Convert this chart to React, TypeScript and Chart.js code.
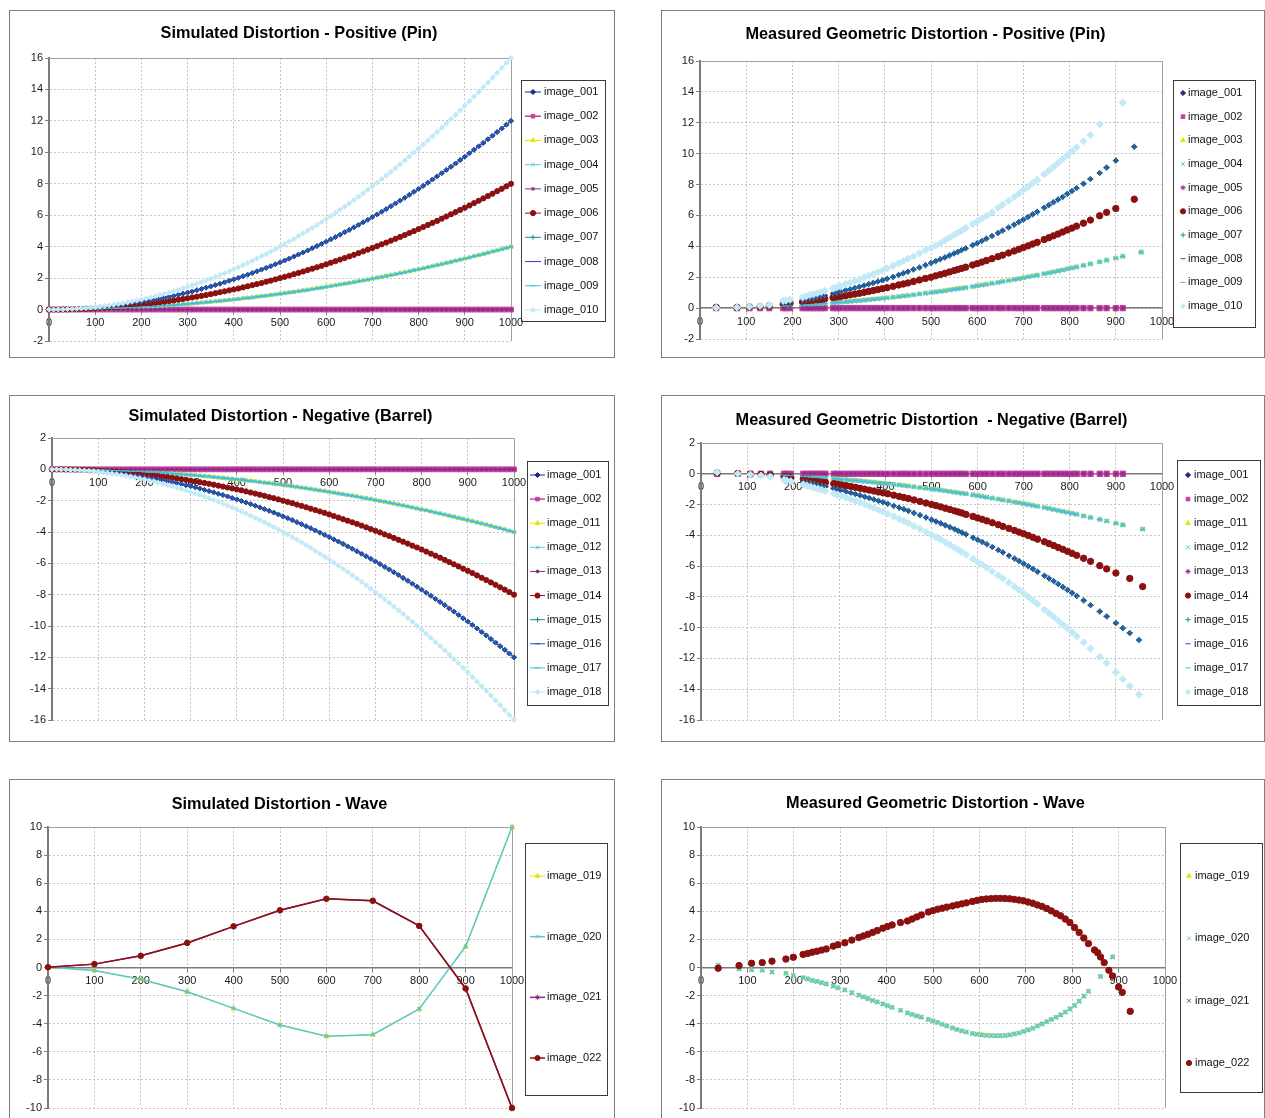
import React, { useEffect, useRef } from 'react';
import { Chart, registerables } from 'chart.js';
import { drawPoint } from 'chart.js/helpers';

Chart.register(...registerables);

const FONT = '"Liberation Sans", Arial, Helvetica, sans-serif';

// ---------------- data ----------------
const simRadius = [
  0, 10, 20, 30, 40, 50, 60, 70, 80, 90,
  100, 110, 120, 130, 140, 150, 160, 170, 180, 190,
  200, 210, 220, 230, 240, 250, 260, 270, 280, 290,
  300, 310, 320, 330, 340, 350, 360, 370, 380, 390,
  400, 410, 420, 430, 440, 450, 460, 470, 480, 490,
  500, 510, 520, 530, 540, 550, 560, 570, 580, 590,
  600, 610, 620, 630, 640, 650, 660, 670, 680, 690,
  700, 710, 720, 730, 740, 750, 760, 770, 780, 790,
  800, 810, 820, 830, 840, 850, 860, 870, 880, 890,
  900, 910, 920, 930, 940, 950, 960, 970, 980, 990,
  1000,
];

const simPinZero = [
  0, 0, 0, 0, 0, 0, 0, 0, 0, 0,
  0, 0, 0, 0, 0, 0, 0, 0, 0, 0,
  0, 0, 0, 0, 0, 0, 0, 0, 0, 0,
  0, 0, 0, 0, 0, 0, 0, 0, 0, 0,
  0, 0, 0, 0, 0, 0, 0, 0, 0, 0,
  0, 0, 0, 0, 0, 0, 0, 0, 0, 0,
  0, 0, 0, 0, 0, 0, 0, 0, 0, 0,
  0, 0, 0, 0, 0, 0, 0, 0, 0, 0,
  0, 0, 0, 0, 0, 0, 0, 0, 0, 0,
  0, 0, 0, 0, 0, 0, 0, 0, 0, 0,
  0,
];

const simPin4 = [
  0, 0, 0, 0, 0.01, 0.01, 0.01, 0.02, 0.03, 0.03,
  0.04, 0.05, 0.06, 0.07, 0.08, 0.09, 0.10, 0.12, 0.13, 0.14,
  0.16, 0.18, 0.19, 0.21, 0.23, 0.25, 0.27, 0.29, 0.31, 0.34,
  0.36, 0.38, 0.41, 0.44, 0.46, 0.49, 0.52, 0.55, 0.58, 0.61,
  0.64, 0.67, 0.71, 0.74, 0.77, 0.81, 0.85, 0.88, 0.92, 0.96,
  1.00, 1.04, 1.08, 1.12, 1.17, 1.21, 1.25, 1.30, 1.35, 1.39,
  1.44, 1.49, 1.54, 1.59, 1.64, 1.69, 1.74, 1.80, 1.85, 1.90,
  1.96, 2.02, 2.07, 2.13, 2.19, 2.25, 2.31, 2.37, 2.43, 2.50,
  2.56, 2.62, 2.69, 2.76, 2.82, 2.89, 2.96, 3.03, 3.10, 3.17,
  3.24, 3.31, 3.39, 3.46, 3.53, 3.61, 3.69, 3.76, 3.84, 3.92,
  4.00,
];

const simPin8 = [
  0, 0, 0, 0.01, 0.01, 0.02, 0.03, 0.04, 0.05, 0.06,
  0.08, 0.10, 0.12, 0.14, 0.16, 0.18, 0.20, 0.23, 0.26, 0.29,
  0.32, 0.35, 0.39, 0.42, 0.46, 0.50, 0.54, 0.58, 0.63, 0.67,
  0.72, 0.77, 0.82, 0.87, 0.92, 0.98, 1.04, 1.10, 1.16, 1.22,
  1.28, 1.34, 1.41, 1.48, 1.55, 1.62, 1.69, 1.77, 1.84, 1.92,
  2.00, 2.08, 2.16, 2.25, 2.33, 2.42, 2.51, 2.60, 2.69, 2.78,
  2.88, 2.98, 3.08, 3.18, 3.28, 3.38, 3.48, 3.59, 3.70, 3.81,
  3.92, 4.03, 4.15, 4.26, 4.38, 4.50, 4.62, 4.74, 4.87, 4.99,
  5.12, 5.25, 5.38, 5.51, 5.64, 5.78, 5.92, 6.06, 6.20, 6.34,
  6.48, 6.62, 6.77, 6.92, 7.07, 7.22, 7.37, 7.53, 7.68, 7.84,
  8.00,
];

const simPin12 = [
  0, 0, 0, 0.01, 0.02, 0.03, 0.04, 0.06, 0.08, 0.10,
  0.12, 0.15, 0.17, 0.20, 0.24, 0.27, 0.31, 0.35, 0.39, 0.43,
  0.48, 0.53, 0.58, 0.63, 0.69, 0.75, 0.81, 0.87, 0.94, 1.01,
  1.08, 1.15, 1.23, 1.31, 1.39, 1.47, 1.56, 1.64, 1.73, 1.83,
  1.92, 2.02, 2.12, 2.22, 2.32, 2.43, 2.54, 2.65, 2.76, 2.88,
  3.00, 3.12, 3.24, 3.37, 3.50, 3.63, 3.76, 3.90, 4.04, 4.18,
  4.32, 4.47, 4.61, 4.76, 4.92, 5.07, 5.23, 5.39, 5.55, 5.71,
  5.88, 6.05, 6.22, 6.39, 6.57, 6.75, 6.93, 7.11, 7.30, 7.49,
  7.68, 7.87, 8.07, 8.27, 8.47, 8.67, 8.88, 9.08, 9.29, 9.51,
  9.72, 9.94, 10.16, 10.38, 10.60, 10.83, 11.06, 11.29, 11.52, 11.76,
  12.00,
];

const simPin16 = [
  0, 0, 0.01, 0.01, 0.03, 0.04, 0.06, 0.08, 0.10, 0.13,
  0.16, 0.19, 0.23, 0.27, 0.31, 0.36, 0.41, 0.46, 0.52, 0.58,
  0.64, 0.71, 0.77, 0.85, 0.92, 1.00, 1.08, 1.17, 1.25, 1.35,
  1.44, 1.54, 1.64, 1.74, 1.85, 1.96, 2.07, 2.19, 2.31, 2.43,
  2.56, 2.69, 2.82, 2.96, 3.10, 3.24, 3.39, 3.53, 3.69, 3.84,
  4.00, 4.16, 4.33, 4.49, 4.67, 4.84, 5.02, 5.20, 5.38, 5.57,
  5.76, 5.95, 6.15, 6.35, 6.55, 6.76, 6.97, 7.18, 7.40, 7.62,
  7.84, 8.07, 8.29, 8.53, 8.76, 9.00, 9.24, 9.49, 9.73, 9.99,
  10.24, 10.50, 10.76, 11.02, 11.29, 11.56, 11.83, 12.11, 12.39, 12.67,
  12.96, 13.25, 13.54, 13.84, 14.14, 14.44, 14.75, 15.05, 15.37, 15.68,
  16.00,
];

const simBarrelZero = [
  0, 0, 0, 0, 0, 0, 0, 0, 0, 0,
  0, 0, 0, 0, 0, 0, 0, 0, 0, 0,
  0, 0, 0, 0, 0, 0, 0, 0, 0, 0,
  0, 0, 0, 0, 0, 0, 0, 0, 0, 0,
  0, 0, 0, 0, 0, 0, 0, 0, 0, 0,
  0, 0, 0, 0, 0, 0, 0, 0, 0, 0,
  0, 0, 0, 0, 0, 0, 0, 0, 0, 0,
  0, 0, 0, 0, 0, 0, 0, 0, 0, 0,
  0, 0, 0, 0, 0, 0, 0, 0, 0, 0,
  0, 0, 0, 0, 0, 0, 0, 0, 0, 0,
  0,
];

const simBarrel4 = [
  0, 0, 0, 0, -0.01, -0.01, -0.01, -0.02, -0.03, -0.03,
  -0.04, -0.05, -0.06, -0.07, -0.08, -0.09, -0.10, -0.12, -0.13, -0.14,
  -0.16, -0.18, -0.19, -0.21, -0.23, -0.25, -0.27, -0.29, -0.31, -0.34,
  -0.36, -0.38, -0.41, -0.44, -0.46, -0.49, -0.52, -0.55, -0.58, -0.61,
  -0.64, -0.67, -0.71, -0.74, -0.77, -0.81, -0.85, -0.88, -0.92, -0.96,
  -1.00, -1.04, -1.08, -1.12, -1.17, -1.21, -1.25, -1.30, -1.35, -1.39,
  -1.44, -1.49, -1.54, -1.59, -1.64, -1.69, -1.74, -1.80, -1.85, -1.90,
  -1.96, -2.02, -2.07, -2.13, -2.19, -2.25, -2.31, -2.37, -2.43, -2.50,
  -2.56, -2.62, -2.69, -2.76, -2.82, -2.89, -2.96, -3.03, -3.10, -3.17,
  -3.24, -3.31, -3.39, -3.46, -3.53, -3.61, -3.69, -3.76, -3.84, -3.92,
  -4.00,
];

const simBarrel8 = [
  0, 0, 0, -0.01, -0.01, -0.02, -0.03, -0.04, -0.05, -0.06,
  -0.08, -0.10, -0.12, -0.14, -0.16, -0.18, -0.20, -0.23, -0.26, -0.29,
  -0.32, -0.35, -0.39, -0.42, -0.46, -0.50, -0.54, -0.58, -0.63, -0.67,
  -0.72, -0.77, -0.82, -0.87, -0.92, -0.98, -1.04, -1.10, -1.16, -1.22,
  -1.28, -1.34, -1.41, -1.48, -1.55, -1.62, -1.69, -1.77, -1.84, -1.92,
  -2.00, -2.08, -2.16, -2.25, -2.33, -2.42, -2.51, -2.60, -2.69, -2.78,
  -2.88, -2.98, -3.08, -3.18, -3.28, -3.38, -3.48, -3.59, -3.70, -3.81,
  -3.92, -4.03, -4.15, -4.26, -4.38, -4.50, -4.62, -4.74, -4.87, -4.99,
  -5.12, -5.25, -5.38, -5.51, -5.64, -5.78, -5.92, -6.06, -6.20, -6.34,
  -6.48, -6.62, -6.77, -6.92, -7.07, -7.22, -7.37, -7.53, -7.68, -7.84,
  -8.00,
];

const simBarrel12 = [
  0, 0, 0, -0.01, -0.02, -0.03, -0.04, -0.06, -0.08, -0.10,
  -0.12, -0.15, -0.17, -0.20, -0.24, -0.27, -0.31, -0.35, -0.39, -0.43,
  -0.48, -0.53, -0.58, -0.63, -0.69, -0.75, -0.81, -0.87, -0.94, -1.01,
  -1.08, -1.15, -1.23, -1.31, -1.39, -1.47, -1.56, -1.64, -1.73, -1.83,
  -1.92, -2.02, -2.12, -2.22, -2.32, -2.43, -2.54, -2.65, -2.76, -2.88,
  -3.00, -3.12, -3.24, -3.37, -3.50, -3.63, -3.76, -3.90, -4.04, -4.18,
  -4.32, -4.47, -4.61, -4.76, -4.92, -5.07, -5.23, -5.39, -5.55, -5.71,
  -5.88, -6.05, -6.22, -6.39, -6.57, -6.75, -6.93, -7.11, -7.30, -7.49,
  -7.68, -7.87, -8.07, -8.27, -8.47, -8.67, -8.88, -9.08, -9.29, -9.51,
  -9.72, -9.94, -10.16, -10.38, -10.60, -10.83, -11.06, -11.29, -11.52, -11.76,
  -12.00,
];

const simBarrel16 = [
  0, 0, -0.01, -0.01, -0.03, -0.04, -0.06, -0.08, -0.10, -0.13,
  -0.16, -0.19, -0.23, -0.27, -0.31, -0.36, -0.41, -0.46, -0.52, -0.58,
  -0.64, -0.71, -0.77, -0.85, -0.92, -1.00, -1.08, -1.17, -1.25, -1.35,
  -1.44, -1.54, -1.64, -1.74, -1.85, -1.96, -2.07, -2.19, -2.31, -2.43,
  -2.56, -2.69, -2.82, -2.96, -3.10, -3.24, -3.39, -3.53, -3.69, -3.84,
  -4.00, -4.16, -4.33, -4.49, -4.67, -4.84, -5.02, -5.20, -5.38, -5.57,
  -5.76, -5.95, -6.15, -6.35, -6.55, -6.76, -6.97, -7.18, -7.40, -7.62,
  -7.84, -8.07, -8.29, -8.53, -8.76, -9.00, -9.24, -9.49, -9.73, -9.99,
  -10.24, -10.50, -10.76, -11.02, -11.29, -11.56, -11.83, -12.11, -12.39, -12.67,
  -12.96, -13.25, -13.54, -13.84, -14.14, -14.44, -14.75, -15.05, -15.37, -15.68,
  -16.00,
];

const simWaveRadius = [0, 100, 200, 300, 400, 500, 600, 700, 800, 900, 1000];
const simWavePos = [0.02, 0.24, 0.83, 1.75, 2.93, 4.07, 4.89, 4.75, 2.96, -1.49, -10];
const simWaveNeg = [0.02, -0.21, -0.83, -1.73, -2.91, -4.09, -4.89, -4.78, -2.95, 1.49, 10];

const measPinRadius = [
  35, 80, 107, 130, 150, 180, 186, 195, 222, 230, 238, 246, 254, 262, 270, 288, 296, 304,
  315, 325, 335, 345, 355, 365, 375, 385, 395, 405, 418, 430, 440, 450, 462, 475, 488, 500, 510,
  520, 530, 540, 550, 558, 566, 575, 590, 600, 610, 620, 632, 645, 655, 668, 680, 690, 700, 710,
  720, 730, 745, 755, 765, 775, 785, 795, 805, 815, 830, 845, 865, 880, 900, 915, 940, 955,
];
const measPin16 = [
  0.02, 0.05, 0.1, 0.15, 0.2, 0.48, 0.5, 0.55, 0.7, 0.78, 0.85, 0.9, 0.97, 1.05, 1.12, 1.28, 1.36, 1.42,
  1.55, 1.65, 1.75, 1.85, 1.98, 2.1, 2.2, 2.33, 2.45, 2.58, 2.74, 2.9, 3.05, 3.2, 3.35, 3.55, 3.75, 3.9, 4.05,
  4.2, 4.38, 4.56, 4.75, 4.88, 5.0, 5.2, 5.45, 5.6, 5.8, 5.98, 6.2, 6.5, 6.7, 6.95, 7.2, 7.4, 7.65, 7.85,
  8.1, 8.3, 8.65, 8.9, 9.15, 9.4, 9.65, 9.9, 10.15, 10.4, 10.8, 11.2, 11.9, null, null, 13.3, null, null,
];
const measPin12 = [
  0.02, 0.05, 0.08, 0.12, 0.18, 0.3, 0.35, 0.38, 0.5, 0.55, 0.6, 0.66, 0.7, 0.76, 0.82, 0.95, 1.0, 1.06,
  1.15, 1.22, 1.3, 1.38, 1.46, 1.55, 1.63, 1.72, 1.8, 1.9, 2.02, 2.15, 2.25, 2.36, 2.5, 2.63, 2.78, 2.92, 3.04,
  3.16, 3.28, 3.41, 3.54, 3.64, 3.75, 3.87, 4.07, 4.2, 4.35, 4.5, 4.67, 4.86, 5.02, 5.22, 5.4, 5.57, 5.73, 5.9,
  6.07, 6.24, 6.5, 6.67, 6.85, 7.03, 7.2, 7.4, 7.58, 7.77, 8.06, 8.36, 8.75, 9.1, 9.55, null, 10.45, null,
];
const measPin8 = [
  0.05, 0.05, 0.08, 0.1, 0.15, 0.25, 0.3, 0.32, 0.4, 0.42, 0.45, 0.5, 0.52, 0.55, 0.6, 0.68, 0.72, 0.75,
  0.8, 0.86, 0.91, 0.96, 1.02, 1.08, 1.14, 1.2, 1.26, 1.32, 1.41, 1.5, 1.56, 1.63, 1.72, 1.82, 1.92, 2.0, 2.09,
  2.17, 2.25, 2.34, 2.43, 2.5, 2.57, 2.65, 2.79, 2.88, 2.98, 3.08, 3.2, 3.33, 3.43, 3.57, 3.7, 3.81, 3.92, 4.03,
  4.15, 4.26, 4.44, 4.56, 4.68, 4.8, 4.93, 5.06, 5.18, 5.31, 5.5, 5.7, 5.98, 6.2, 6.45, null, 7.05, null,
];
const measPin4 = [
  0, 0.02, 0.03, 0.05, 0.08, 0.12, 0.13, 0.15, 0.2, 0.22, 0.23, 0.25, 0.27, 0.28, 0.3, 0.34, 0.36, 0.38,
  0.4, 0.43, 0.46, 0.48, 0.51, 0.54, 0.57, 0.6, 0.63, 0.66, 0.7, 0.74, 0.78, 0.81, 0.86, 0.91, 0.96, 1.0, 1.04,
  1.08, 1.12, 1.17, 1.21, 1.25, 1.28, 1.32, 1.39, 1.44, 1.49, 1.54, 1.6, 1.66, 1.72, 1.78, 1.85, 1.9, 1.96, 2.02,
  2.07, 2.13, 2.22, 2.28, 2.34, 2.4, 2.46, 2.53, 2.59, 2.66, 2.76, 2.86, 2.99, 3.1, 3.24, 3.35, null, 3.62,
];
const measPinZero = [
  0, 0, 0, 0, 0, 0, 0, 0, 0, 0, 0, 0, 0, 0, 0, 0, 0, 0,
  0, 0, 0, 0, 0, 0, 0, 0, 0, 0, 0, 0, 0, 0, 0, 0, 0, 0, 0,
  0, 0, 0, 0, 0, 0, 0, 0, 0, 0, 0, 0, 0, 0, 0, 0, 0, 0, 0,
  0, 0, 0, 0, 0, 0, 0, 0, 0, 0, 0, 0, 0, 0, 0, 0, null, null,
];

const measBarrelRadius = [
  35, 80, 107, 130, 150, 180, 186, 195, 222, 230, 238, 246, 254, 262, 270, 288, 296, 304,
  315, 325, 335, 345, 355, 365, 375, 385, 395, 405, 418, 430, 440, 450, 462, 475, 488, 500, 510,
  520, 530, 540, 550, 558, 566, 575, 590, 600, 610, 620, 632, 645, 655, 668, 680, 690, 700, 710,
  720, 730, 745, 755, 765, 775, 785, 795, 805, 815, 830, 845, 865, 880, 900, 915, 930, 950, 958,
];
const measBarrel16 = [
  0.1, 0, -0.05, -0.12, -0.2, -0.4, -0.45, -0.5, -0.7, -0.78, -0.85, -0.92, -0.98, -1.05, -1.12, -1.28, -1.36, -1.44,
  -1.55, -1.65, -1.76, -1.87, -1.98, -2.1, -2.22, -2.35, -2.47, -2.6, -2.77, -2.93, -3.07, -3.22, -3.4, -3.58, -3.78, -3.96, -4.12,
  -4.28, -4.45, -4.62, -4.8, -4.94, -5.08, -5.25, -5.53, -5.72, -5.9, -6.1, -6.35, -6.6, -6.8, -7.08, -7.33, -7.55, -7.78, -8.0,
  -8.23, -8.47, -8.82, -9.06, -9.3, -9.55, -9.8, -10.05, -10.3, -10.56, -10.95, -11.35, -11.9, -12.3, -12.9, -13.35, -13.8, -14.35, null,
];
const measBarrel12 = [
  0.05, 0, -0.05, -0.08, -0.12, -0.3, -0.33, -0.38, -0.52, -0.57, -0.62, -0.67, -0.72, -0.78, -0.84, -0.96, -1.02, -1.08,
  -1.16, -1.24, -1.32, -1.4, -1.49, -1.58, -1.67, -1.76, -1.85, -1.95, -2.08, -2.2, -2.3, -2.41, -2.55, -2.69, -2.84, -2.98, -3.1,
  -3.22, -3.35, -3.47, -3.6, -3.71, -3.82, -3.94, -4.15, -4.29, -4.43, -4.58, -4.76, -4.96, -5.11, -5.32, -5.51, -5.67, -5.84, -6.01,
  -6.18, -6.36, -6.62, -6.8, -6.98, -7.17, -7.36, -7.55, -7.74, -7.94, -8.23, -8.54, -8.95, -9.27, -9.7, -10.03, -10.35, -10.8, null,
];
const measBarrel8 = [
  0.05, 0.02, -0.03, -0.05, -0.08, -0.18, -0.2, -0.25, -0.35, -0.38, -0.42, -0.45, -0.48, -0.52, -0.56, -0.64, -0.68, -0.72,
  -0.78, -0.83, -0.88, -0.94, -1.0, -1.06, -1.12, -1.18, -1.24, -1.3, -1.39, -1.47, -1.54, -1.61, -1.7, -1.8, -1.9, -1.99, -2.07,
  -2.15, -2.24, -2.32, -2.41, -2.48, -2.55, -2.64, -2.77, -2.87, -2.96, -3.06, -3.18, -3.31, -3.42, -3.55, -3.68, -3.79, -3.9, -4.01,
  -4.13, -4.25, -4.42, -4.54, -4.66, -4.79, -4.91, -5.04, -5.17, -5.3, -5.49, -5.69, -5.97, -6.18, -6.45, null, -6.8, null, -7.33,
];
const measBarrel4 = [
  0.1, 0.02, 0, -0.02, -0.04, -0.08, -0.1, -0.12, -0.18, -0.2, -0.22, -0.24, -0.25, -0.27, -0.29, -0.33, -0.35, -0.37,
  -0.39, -0.42, -0.44, -0.47, -0.5, -0.53, -0.56, -0.59, -0.62, -0.65, -0.69, -0.73, -0.77, -0.8, -0.85, -0.9, -0.95, -0.99, -1.03,
  -1.07, -1.11, -1.16, -1.2, -1.24, -1.27, -1.31, -1.38, -1.43, -1.48, -1.53, -1.59, -1.65, -1.71, -1.77, -1.84, -1.89, -1.95, -2.0,
  -2.06, -2.12, -2.2, -2.26, -2.33, -2.39, -2.45, -2.51, -2.58, -2.64, -2.74, -2.84, -2.97, -3.08, -3.22, -3.33, null, null, -3.6,
];
const measBarrelZero = [
  0, 0, 0, 0, 0, 0, 0, 0, 0, 0, 0, 0, 0, 0, 0, 0, 0, 0,
  0, 0, 0, 0, 0, 0, 0, 0, 0, 0, 0, 0, 0, 0, 0, 0, 0, 0, 0,
  0, 0, 0, 0, 0, 0, 0, 0, 0, 0, 0, 0, 0, 0, 0, 0, 0, 0, 0,
  0, 0, 0, 0, 0, 0, 0, 0, 0, 0, 0, 0, 0, 0, 0, 0, null, null, null,
];

const measWaveRadius = [
  37, 82, 109, 132, 153, 183, 199, 220, 230, 240,
  250, 260, 270, 285, 295, 310, 325, 340, 350, 360,
  370, 380, 392, 402, 412, 430, 445, 455, 465, 475,
  490, 500, 510, 520, 530, 542, 552, 562, 572, 585,
  595, 605, 615, 625, 635, 645, 655, 665, 675, 685,
  695, 705, 715, 725, 735, 745, 755, 765, 775, 785,
  795, 805, 815, 825, 835, 848, 855, 861, 869, 879,
  887, 900, 908, 925,
];
const measWavePos = [
  -0.05, 0.14, 0.3, 0.35, 0.45, 0.6, 0.73, 0.93, 1.0, 1.09,
  1.16, 1.24, 1.32, 1.52, 1.62, 1.76, 1.95, 2.13, 2.25, 2.37,
  2.5, 2.63, 2.8, 2.92, 3.03, 3.2, 3.31, 3.45, 3.6, 3.74,
  3.95, 4.05, 4.15, 4.22, 4.3, 4.38, 4.46, 4.53, 4.6, 4.7,
  4.78, 4.84, 4.88, 4.9, 4.92, 4.92, 4.91, 4.89, 4.85, 4.8,
  4.75, 4.66, 4.57, 4.45, 4.35, 4.2, 4.03, 3.85, 3.68, 3.45,
  3.2, 2.85, 2.5, 2.1, 1.7, 1.25, 1.05, 0.75, 0.35, -0.2,
  -0.6, -1.39, -1.77, -3.12,
];
const measWaveNeg = [
  0.15, -0.1, -0.17, -0.2, -0.33, -0.42, -0.57, -0.73, -0.82, -0.93,
  -1.0, -1.08, -1.18, -1.33, -1.45, -1.6, -1.8, -1.98, -2.1, -2.22,
  -2.35, -2.46, -2.6, -2.72, -2.84, -3.05, -3.24, -3.35, -3.45, -3.54,
  -3.7, -3.8, -3.92, -4.05, -4.17, -4.3, -4.42, -4.52, -4.6, -4.7,
  -4.76, -4.8, -4.83, -4.85, -4.86, -4.86, -4.85, -4.8, -4.74, -4.67,
  -4.56, -4.45, -4.33, -4.17, -4.02, -3.86, -3.7, -3.55, -3.38, -3.18,
  -2.95, -2.7, -2.4, -2.05, -1.7, null, null, -0.64, null, null,
  0.75, null, null, null,
];

// ---------------- styling ----------------
const COL = {
  navy: '#1b2a85',
  magenta: '#c8409f',
  yellow: '#e4e400',
  cyan: '#5cc8d2',
  purple: '#8a2b8a',
  darkred: '#8b1111',
  teal: '#1f8c8c',
  blue: '#3344c8',
  sky: '#3cbbea',
  light: '#c2eaf6',
  waveTeal: '#5cc6c8',
};

type Series = {
  label: string;
  color: string;
  marker: string;
  radius: number;
  width: number;
  bw?: number;
  values: (number | null)[];
};

type LegendCfg = {
  box: [number, number, number, number];
  y0: number;
  dy: number;
  lineX?: [number, number];
  markerX: number;
  textX: number;
};

type PanelCfg = {
  frame: [number, number, number, number];
  area: [number, number, number, number];
  title: string;
  titlePos: [number, number];
  yMin: number;
  yMax: number;
  yStep: number;
  xs: number[];
  showLine: boolean;
  series: Series[];
  legend: LegendCfg;
};

const simSet = (labels: string[], vals: (number | null)[][]): Series[] => {
  const styles = [
    { color: COL.navy, marker: 'rectRot', radius: 2.5, width: 1 },
    { color: COL.magenta, marker: 'rect', radius: 3.4, width: 3.5 },
    { color: COL.yellow, marker: 'triangle', radius: 2.6, width: 1 },
    { color: COL.cyan, marker: 'crossRot', radius: 2.5, width: 1, bw: 1.3 },
    { color: COL.purple, marker: 'star', radius: 2, width: 1 },
    { color: COL.darkred, marker: 'circle', radius: 2.6, width: 1 },
    { color: COL.teal, marker: 'cross', radius: 2.5, width: 1 },
    { color: COL.blue, marker: 'line', radius: 2.5, width: 1 },
    { color: COL.sky, marker: 'line', radius: 2.5, width: 1 },
    { color: COL.light, marker: 'rectRot', radius: 2.6, width: 1.2 },
  ];
  return labels.map((l, i) => ({ label: l, ...styles[i], values: vals[i] }));
};

const measSet = (labels: string[], vals: (number | null)[][]): Series[] => {
  const styles = [
    { color: COL.navy, marker: 'rectRot', radius: 2.6, width: 0 },
    { color: COL.magenta, marker: 'rect', radius: 3.8, width: 0 },
    { color: COL.yellow, marker: 'triangle', radius: 2.8, width: 0 },
    { color: COL.cyan, marker: 'crossRot', radius: 3, width: 0, bw: 1.6 },
    { color: COL.purple, marker: 'star', radius: 2.6, width: 0 },
    { color: COL.darkred, marker: 'circle', radius: 3.2, width: 0 },
    { color: COL.teal, marker: 'cross', radius: 3, width: 0, bw: 1.4 },
    { color: COL.blue, marker: 'line', radius: 2.5, width: 0 },
    { color: COL.sky, marker: 'line', radius: 3, width: 0 },
    { color: COL.light, marker: 'rectRot', radius: 3.6, width: 0 },
  ];
  return labels.map((l, i) => ({ label: l, ...styles[i], values: vals[i] }));
};

const pinLabels = ['image_001', 'image_002', 'image_003', 'image_004', 'image_005', 'image_006', 'image_007', 'image_008', 'image_009', 'image_010'];
const barrelLabels = ['image_001', 'image_002', 'image_011', 'image_012', 'image_013', 'image_014', 'image_015', 'image_016', 'image_017', 'image_018'];
const waveLabels = ['image_019', 'image_020', 'image_021', 'image_022'];

const panels: PanelCfg[] = [
  {
    frame: [9, 10, 606, 348],
    area: [39, 501, 47, 330],
    title: 'Simulated Distortion - Positive (Pin)',
    titlePos: [289, 23],
    yMin: -2, yMax: 16, yStep: 2,
    xs: simRadius,
    showLine: true,
    series: simSet(pinLabels, [simPin12, simPinZero, simPin4, simPin4, simPinZero, simPin8, simPin12, simPin12, simPin4, simPin16]),
    legend: { box: [511, 69, 595, 310], y0: 81, dy: 24.22, lineX: [515, 531], markerX: 523, textX: 534 },
  },
  {
    frame: [661, 10, 604, 348],
    area: [38, 500, 50, 328],
    title: 'Measured Geometric Distortion - Positive (Pin)',
    titlePos: [263.5, 24],
    yMin: -2, yMax: 16, yStep: 2,
    xs: measPinRadius,
    showLine: false,
    series: measSet(pinLabels, [measPin12, measPinZero, measPin4, measPin4, measPinZero, measPin8, measPin12, measPin12, measPin4, measPin16]),
    legend: { box: [511, 69, 593, 316], y0: 82, dy: 23.67, markerX: 521, textX: 526 },
  },
  {
    frame: [9, 395, 606, 347],
    area: [42, 504, 42, 324],
    title: 'Simulated Distortion - Negative (Barrel)',
    titlePos: [270.5, 21],
    yMin: -16, yMax: 2, yStep: 2,
    xs: simRadius,
    showLine: true,
    series: simSet(barrelLabels, [simBarrel12, simBarrelZero, simBarrel4, simBarrel4, simBarrelZero, simBarrel8, simBarrel12, simBarrel12, simBarrel4, simBarrel16]),
    legend: { box: [517, 65, 598, 309], y0: 79, dy: 24.11, lineX: [520, 535], markerX: 527.5, textX: 537 },
  },
  {
    frame: [661, 395, 604, 347],
    area: [39, 500, 47, 324],
    title: 'Measured Geometric Distortion  - Negative (Barrel)',
    titlePos: [269.5, 25],
    yMin: -16, yMax: 2, yStep: 2,
    xs: measBarrelRadius,
    showLine: false,
    series: measSet(barrelLabels, [measBarrel12, measBarrelZero, measBarrel4, measBarrel4, measBarrelZero, measBarrel8, measBarrel12, measBarrel12, measBarrel4, measBarrel16]),
    legend: { box: [515, 64, 598, 309], y0: 79, dy: 24.11, markerX: 526, textX: 532 },
  },
  {
    frame: [9, 779, 606, 348],
    area: [38, 502, 47, 328],
    title: 'Simulated Distortion - Wave',
    titlePos: [269.5, 25],
    yMin: -10, yMax: 10, yStep: 2,
    xs: simWaveRadius,
    showLine: true,
    series: [
      { label: waveLabels[0], color: COL.yellow, marker: 'triangle', radius: 3, width: 1, values: simWaveNeg },
      { label: waveLabels[1], color: COL.waveTeal, marker: 'crossRot', radius: 2.5, width: 1.5, bw: 1.2, values: simWaveNeg },
      { label: waveLabels[2], color: COL.purple, marker: 'star', radius: 2.5, width: 1.5, values: simWavePos },
      { label: waveLabels[3], color: COL.darkred, marker: 'circle', radius: 2.8, width: 1.5, values: simWavePos },
    ],
    legend: { box: [515, 63, 597, 315], y0: 96, dy: 60.67, lineX: [520, 535], markerX: 527.5, textX: 537 },
  },
  {
    frame: [661, 779, 604, 348],
    area: [39, 503, 47, 328],
    title: 'Measured Geometric Distortion - Wave',
    titlePos: [273.5, 24],
    yMin: -10, yMax: 10, yStep: 2,
    xs: measWaveRadius,
    showLine: false,
    series: [
      { label: waveLabels[0], color: COL.yellow, marker: 'triangle', radius: 2.6, width: 0, values: measWaveNeg },
      { label: waveLabels[1], color: COL.cyan, marker: 'crossRot', radius: 3, width: 0, bw: 1.7, values: measWaveNeg },
      { label: waveLabels[2], color: COL.purple, marker: 'crossRot', radius: 3.4, width: 0, bw: 1.4, values: measWavePos },
      { label: waveLabels[3], color: COL.darkred, marker: 'circle', radius: 3.2, width: 0, values: measWavePos },
    ],
    legend: { box: [518, 63, 600, 312], y0: 96, dy: 62.33, markerX: 527, textX: 533 },
  },
];

function decorPlugin(cfg: PanelCfg) {
  return {
    id: 'excelDecor',
    beforeDatasetsDraw(chart: any) {
      const { ctx, chartArea: a } = chart;
      ctx.save();
      ctx.strokeStyle = '#a0a0a0';
      ctx.lineWidth = 1;
      const t = Math.round(a.top) + 0.5;
      const r = Math.round(a.right) + 0.5;
      ctx.beginPath();
      ctx.moveTo(a.left, t);
      ctx.lineTo(r, t);
      ctx.lineTo(r, a.bottom);
      ctx.stroke();
      ctx.restore();
    },
    afterDraw(chart: any) {
      const { ctx } = chart;
      ctx.save();
      ctx.font = `bold 16.3px ${FONT}`;
      ctx.fillStyle = '#000';
      ctx.textAlign = 'center';
      ctx.textBaseline = 'middle';
      ctx.fillText(cfg.title, cfg.titlePos[0], cfg.titlePos[1]);

      const lg = cfg.legend;
      const [x1, y1, x2, y2] = lg.box;
      ctx.strokeStyle = '#3a3a3a';
      ctx.lineWidth = 1;
      ctx.strokeRect(x1 + 0.5, y1 + 0.5, x2 - x1, y2 - y1);
      ctx.font = `11px ${FONT}`;
      ctx.textAlign = 'left';
      ctx.textBaseline = 'middle';
      cfg.series.forEach((s, i) => {
        const y = lg.y0 + i * lg.dy;
        if (lg.lineX) {
          ctx.strokeStyle = s.color;
          ctx.lineWidth = Math.min(s.width, 1.5);
          ctx.beginPath();
          ctx.moveTo(lg.lineX[0], y);
          ctx.lineTo(lg.lineX[1], y);
          ctx.stroke();
        }
        ctx.fillStyle = s.color;
        ctx.strokeStyle = s.color;
        ctx.lineWidth = 1;
        drawPoint(ctx, { pointStyle: s.marker as any, radius: Math.min(s.radius, 2.6), borderWidth: 1, rotation: 0 } as any, lg.markerX, y);
        ctx.fillStyle = '#111';
        ctx.fillText(s.label, lg.textX, y);
      });
      ctx.restore();
    },
  };
}

function Panel({ cfg }: { cfg: PanelCfg }) {
  const ref = useRef<HTMLCanvasElement>(null);
  const [fl, ft, fw, fh] = cfg.frame;
  const W = fw - 2;
  const H = fh - 2;

  useEffect(() => {
    if (!ref.current) return;
    const [al, ar, at, ab] = cfg.area;
    const tickFont = { family: FONT, size: 11 };
    const chart = new Chart(ref.current, {
      type: 'scatter',
      data: {
        datasets: cfg.series.map((s, i) => ({
          label: s.label,
          data: cfg.xs.map((x, j) => ({ x, y: s.values[j] })),
          showLine: cfg.showLine,
          borderColor: s.color,
          backgroundColor: s.color,
          pointBackgroundColor: s.color,
          pointBorderColor: s.color,
          pointStyle: s.marker as any,
          pointRadius: s.radius,
          pointHoverRadius: s.radius,
          pointBorderWidth: s.bw ?? 1,
          borderWidth: s.width,
          order: -i,
          clip: false as any,
          spanGaps: false,
        })) as any,
      },
      options: {
        animation: false,
        responsive: false,
        devicePixelRatio: 1,
        events: [],
        layout: { padding: { left: 0, top: at, right: W - ar, bottom: H - ab } },
        plugins: {
          legend: { display: false },
          title: { display: false },
          tooltip: { enabled: false },
        },
        scales: {
          x: {
            type: 'linear',
            min: 0,
            max: 1000,
            position: { y: 0 } as any,
            ticks: {
              stepSize: 100,
              autoSkip: false,
              maxRotation: 0,
              padding: 3,
              color: '#1a1a1a',
              font: tickFont,
              callback: (v: any) => String(v),
            },
            grid: { color: '#c4c4c4', lineWidth: 1, tickLength: 4, tickColor: '#808080', tickBorderDash: [] } as any,
            border: { color: '#7a7a7a', width: 1.5, dash: [2, 2] },
          },
          y: {
            type: 'linear',
            min: cfg.yMin,
            max: cfg.yMax,
            ticks: {
              stepSize: cfg.yStep,
              autoSkip: false,
              padding: 2,
              color: '#1a1a1a',
              font: tickFont,
              callback: (v: any) => String(v),
            },
            grid: { color: '#c4c4c4', lineWidth: 1, tickLength: 4, tickColor: '#808080', tickBorderDash: [] } as any,
            border: { color: '#7a7a7a', width: 2, dash: [2, 2] },
            afterFit: (scale: any) => {
              scale.width = al;
            },
          },
        },
      } as any,
      plugins: [decorPlugin(cfg)],
    });
    return () => chart.destroy();
  }, []);

  return (
    <div
      style={{
        position: 'absolute',
        left: fl,
        top: ft,
        width: fw,
        height: fh,
        border: '1px solid #7f7f7f',
        boxSizing: 'border-box',
        background: '#fff',
      }}
    >
      <canvas ref={ref} width={W} height={H} style={{ display: 'block', width: W, height: H }} />
    </div>
  );
}

export default function App() {
  return (
    <div
      style={{
        position: 'absolute',
        left: 0,
        top: 0,
        width: 1265,
        height: 1118,
        overflow: 'hidden',
        background: '#fff',
      }}
    >
      {panels.map((p, i) => (
        <Panel key={i} cfg={p} />
      ))}
    </div>
  );
}
